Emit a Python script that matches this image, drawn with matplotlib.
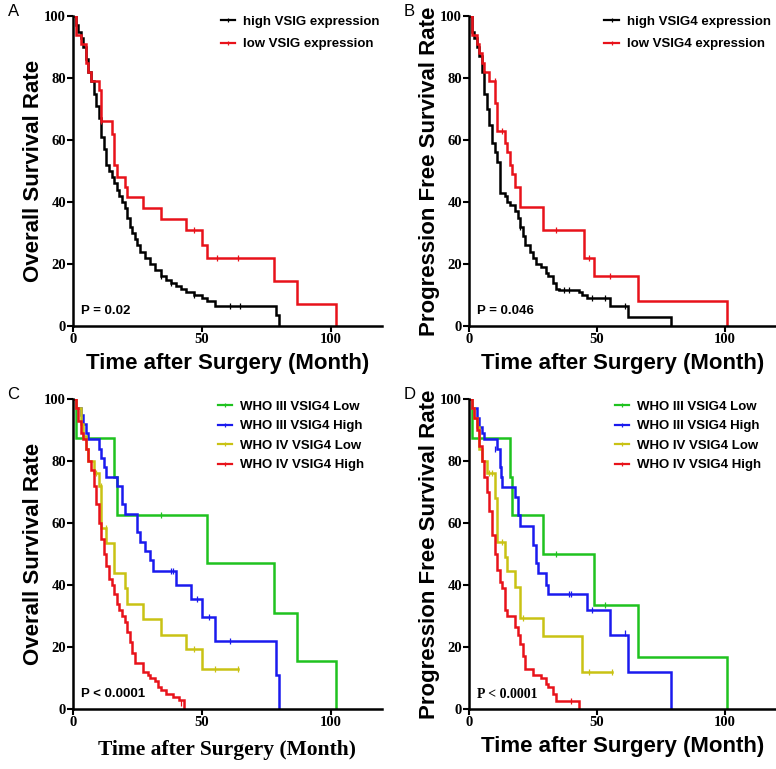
import matplotlib.pyplot as plt
from matplotlib.lines import Line2D

# ---- data (months, survival %) ----
# A: overall survival, VSIG4 high vs low
a_high_t = [0, 1, 2, 3, 4, 5, 6, 7, 8, 9, 10, 11, 12, 13, 14, 15, 16, 17, 18, 19, 20, 21, 22, 23, 24, 25, 26,
            28, 30, 32, 34, 36, 38, 40, 42, 44, 47, 50, 52, 55, 79, 80]
a_high_s = [100, 97, 95, 93, 90, 86, 82, 79, 75, 71, 67, 61, 57, 52, 50, 48, 46, 44, 42, 40, 38, 35, 32, 30, 28,
            26, 24, 22, 20, 18, 16, 15, 14, 13, 12, 11, 10, 9, 8, 6.5, 3.5, 0]
a_high_cens_t = [34, 38, 47, 61, 65]
a_high_cens_s = [16, 14, 10, 6.5, 6.5]
a_low_t = [0, 1, 3, 5, 6, 7, 10, 11, 15, 16, 17, 20, 21, 27, 34, 44, 50, 52, 78, 87, 102]
a_low_s = [100, 94, 91, 85, 82, 79, 76, 66, 62, 52, 48, 45, 41.5, 38, 34.5, 31, 26, 22, 14.5, 7, 0]
a_low_cens_t = [11, 47, 56, 64]
a_low_cens_s = [66, 31, 22, 22]

# B: progression free survival, VSIG4 high vs low
b_high_t = [0, 1, 2, 3, 4, 5, 6, 7, 8, 9, 10, 11, 12, 14, 15, 16, 18, 19, 20, 21, 22, 24, 25, 26, 28, 30, 31,
            33, 34, 35, 43, 44, 46, 55, 62, 79]
b_high_s = [100, 95, 93, 90, 87, 82, 75, 70, 65, 59, 56, 53, 43, 42, 40, 39, 37, 35, 32, 29, 26, 24, 22, 20, 19,
            17, 16, 14, 12, 11.5, 11, 10, 9, 6.5, 3, 0]
b_high_cens_t = [20, 37, 39, 48, 53, 61]
b_high_cens_s = [32, 11.5, 11.5, 9, 9, 6.5]
b_low_t = [0, 1, 3, 4, 5, 6, 8, 10, 11, 14, 15, 16, 17, 18, 20, 29, 45, 49, 66, 101]
b_low_s = [100, 94, 91, 88, 85, 82, 79, 72, 63, 59, 56, 52, 49, 45, 38.5, 31, 22, 16, 8, 0]
b_low_cens_t = [10, 13, 34, 47, 55]
b_low_cens_s = [79, 63, 31, 22, 16]

group_labels = ['WHO III VSIG4 Low', 'WHO III VSIG4 High', 'WHO IV VSIG4 Low', 'WHO IV VSIG4 High']

# C: overall survival by grade and VSIG4
c_g3low_t = [0, 1, 16, 17, 52, 78, 87, 102]
c_g3low_s = [100, 87.5, 75, 62.5, 47, 31, 15.6, 0]
c_g3low_cens_t = [34]
c_g3low_cens_s = [62.5]
c_g3high_t = [0, 1, 3, 4, 5, 6, 10, 11, 12, 13, 17, 19, 20, 25, 26, 28, 30, 31, 40, 46, 50, 55, 79, 80]
c_g3high_s = [100, 97, 95, 92, 89, 87, 84, 81, 78, 75, 72, 66, 63, 57, 54, 51, 48, 44.5, 40, 35.5, 29.6, 22,
              11, 0]
c_g3high_cens_t = [38, 39, 48, 53, 61]
c_g3high_cens_s = [44.5, 44.5, 35.5, 29.6, 22]
c_g4low_t = [0, 1, 3, 4, 5, 6, 8, 10, 11, 13, 16, 20, 21, 27, 34, 44, 50, 64]
c_g4low_s = [100, 97, 92, 88, 84, 80, 76, 72, 58.5, 53.5, 44, 39, 34, 29, 24, 19.5, 13, 13]
c_g4low_cens_t = [9, 11, 13, 47, 55, 64]
c_g4low_cens_s = [76, 72, 58.5, 19.5, 13, 13]
c_g4high_t = [0, 1, 2, 3, 4, 5, 6, 7, 8, 9, 10, 11, 12, 13, 14, 15, 16, 17, 18, 19, 20, 21, 22, 23, 24, 27, 29,
              30, 32, 33, 34, 36, 39, 41, 43]
c_g4high_s = [100, 97, 93, 89, 87, 84, 80, 77, 72, 66, 60, 55, 50, 46, 42, 40, 37, 34, 32, 30, 28, 25, 21.5, 18,
              15, 12, 11, 10, 9, 7, 6, 5, 4, 3, 0]
c_g4high_cens_t = [42]
c_g4high_cens_s = [2]

# D: progression free survival by grade and VSIG4
d_g3low_t = [0, 1, 16, 17, 29, 49, 66, 101]
d_g3low_s = [100, 87.5, 75, 62.5, 50, 33.5, 16.7, 0]
d_g3low_cens_t = [34, 53]
d_g3low_cens_s = [50, 33.5]
d_g3high_t = [0, 1, 3, 4, 5, 6, 11, 12, 12.5, 13, 18, 19, 20, 25, 26, 27, 30, 31, 46, 55, 62, 79]
d_g3high_s = [100, 97, 94, 91, 89, 87, 84, 78, 75, 71.5, 68.5, 62.5, 59, 53, 47, 44, 40, 37, 32, 24, 12, 0]
d_g3high_cens_t = [10, 39, 40, 48, 61]
d_g3high_cens_s = [84, 37, 37, 32, 24.5]
d_g4low_t = [0, 1, 2, 3, 4, 5, 7, 10, 10.2, 11, 14, 15, 18, 20, 29, 44, 56]
d_g4low_s = [100, 97, 94, 91, 84, 80, 76, 72, 68, 54, 49, 44.5, 39.5, 29.5, 23.5, 12, 12]
d_g4low_cens_t = [8, 9, 13, 21, 47, 56]
d_g4low_cens_s = [76, 76, 54, 29.5, 12, 12]
d_g4high_t = [0, 1, 2, 3, 4, 5, 6, 7, 8, 9, 10, 11, 12, 13, 14, 15, 18, 19, 20, 21, 22, 25, 28, 30, 31, 33,
              34, 43]
d_g4high_s = [100, 97, 94, 90, 85, 80, 75, 70, 64, 56, 50, 45, 41, 39, 32, 30, 26.5, 24, 21, 17, 13, 11, 10, 8,
              7, 5, 2.5, 0]
d_g4high_cens_t = [40]
d_g4high_cens_s = [2.5]

RED = '#e8121a'
GREEN = '#1fc21f'
BLUE = '#1a1aee'
YELLOW = '#c9c214'

W, H = 776, 769
fig = plt.figure(figsize=(W / 100, H / 100), dpi=100)

SANS = 'Liberation Sans'
SERIF = 'Liberation Serif'


def px_axes(x0, y_top, x1, y_bot):
    return fig.add_axes([x0 / W, 1 - y_bot / H, (x1 - x0) / W, (y_bot - y_top) / H])


def km(ax, t, s, ct, cs, color):
    ax.step(t, s, where='post', color=color, lw=1.8, solid_joinstyle='miter')
    ax.plot(ct, cs, ls='none', marker='|', ms=4, mew=0.9, color=color)


def style(ax, ylabel, letter, ptext, pserif, xserif, labels, colors, leg_x, leg_y, leg_sp):
    ax.set_xlim(0, 120)
    ax.set_ylim(0, 100)
    for sp in ['top', 'right']:
        ax.spines[sp].set_visible(False)
    for sp in ['left', 'bottom']:
        ax.spines[sp].set_linewidth(1.8)
    ax.set_xticks([0, 50, 100])
    ax.set_yticks([0, 20, 40, 60, 80, 100])
    ax.tick_params(width=1.5, length=4, direction='out', pad=1)
    for lab in ax.get_xticklabels() + ax.get_yticklabels():
        lab.set_fontfamily(SERIF)
        lab.set_fontweight('bold')
        lab.set_fontsize(10.5)
    ax.set_ylabel(ylabel, family=SANS, weight='bold', fontsize=16, labelpad=0)
    if xserif:
        ax.set_xlabel('Time after Surgery (Month)', family=SERIF, weight='bold', fontsize=15.5, labelpad=8)
    else:
        ax.set_xlabel('Time after Surgery (Month)', family=SANS, weight='bold', fontsize=16, labelpad=5)
    ax.text(-0.212, 1.013, letter, transform=ax.transAxes, family=SANS, fontsize=12,
            va='center', ha='left')
    ax.text(0.027, 0.047, ptext, transform=ax.transAxes, family=SERIF if pserif else SANS,
            weight='bold', fontsize=10 if pserif else 9.5, va='center', ha='left')
    handles = [Line2D([], [], color=c, lw=1.6, marker='|', ms=3.5, mew=0.9) for c in colors]
    ax.legend(handles, labels, loc='upper right', bbox_to_anchor=(leg_x, leg_y), frameon=False,
              borderaxespad=0, handlelength=1.1, handletextpad=0.6, labelspacing=leg_sp,
              prop={'family': SANS, 'weight': 'bold', 'size': 9.5})


# A
axA = px_axes(73, 16, 382, 326)
km(axA, a_high_t, a_high_s, a_high_cens_t, a_high_cens_s, 'black')
km(axA, a_low_t, a_low_s, a_low_cens_t, a_low_cens_s, RED)
style(axA, 'Overall Survival Rate', 'A', 'P = 0.02', False, False,
      ['high VSIG expression', 'low VSIG expression'], ['black', RED], 1.01, 1.018, 0.78)

# B
axB = px_axes(469, 16, 776, 326)
km(axB, b_high_t, b_high_s, b_high_cens_t, b_high_cens_s, 'black')
km(axB, b_low_t, b_low_s, b_low_cens_t, b_low_cens_s, RED)
style(axB, 'Progression Free Survival Rate', 'B', 'P = 0.046', False, False,
      ['high VSIG4 expression', 'low VSIG4 expression'], ['black', RED], 1.0, 1.018, 0.78)

# C
axC = px_axes(73, 399, 382, 709)
km(axC, c_g3low_t, c_g3low_s, c_g3low_cens_t, c_g3low_cens_s, GREEN)
km(axC, c_g3high_t, c_g3high_s, c_g3high_cens_t, c_g3high_cens_s, BLUE)
km(axC, c_g4low_t, c_g4low_s, c_g4low_cens_t, c_g4low_cens_s, YELLOW)
km(axC, c_g4high_t, c_g4high_s, c_g4high_cens_t, c_g4high_cens_s, RED)
style(axC, 'Overall Survival Rate', 'C', 'P < 0.0001', False, True,
      group_labels, [GREEN, BLUE, YELLOW, RED], 0.96, 1.012, 0.55)

# D
axD = px_axes(469, 399, 776, 709)
km(axD, d_g3low_t, d_g3low_s, d_g3low_cens_t, d_g3low_cens_s, GREEN)
km(axD, d_g3high_t, d_g3high_s, d_g3high_cens_t, d_g3high_cens_s, BLUE)
km(axD, d_g4low_t, d_g4low_s, d_g4low_cens_t, d_g4low_cens_s, YELLOW)
km(axD, d_g4high_t, d_g4high_s, d_g4high_cens_t, d_g4high_cens_s, RED)
style(axD, 'Progression Free Survival Rate', 'D', 'P < 0.0001', True, False,
      group_labels, [GREEN, BLUE, YELLOW, RED], 0.97, 1.012, 0.55)

fig.savefig('out.png', dpi=100)
